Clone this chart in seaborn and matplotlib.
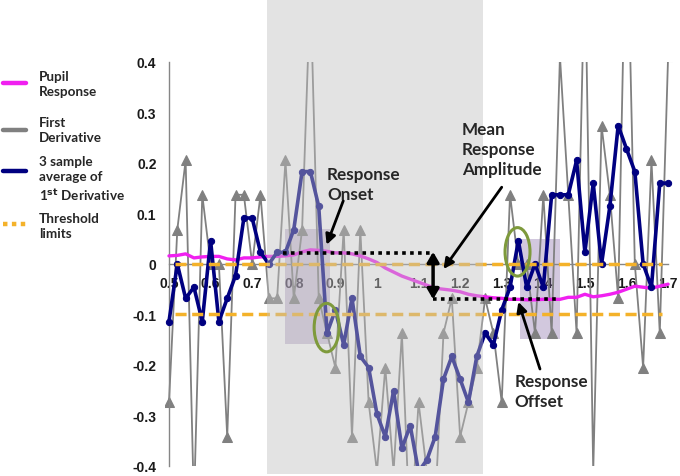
import numpy as np
import pandas as pd
import matplotlib
matplotlib.use("Agg")
import matplotlib.pyplot as plt
import seaborn as sns
from matplotlib.patches import Rectangle, Ellipse
from matplotlib.lines import Line2D

# samples every 0.02 s
sample_time = [0.50, 0.52, 0.54, 0.56, 0.58, 0.60, 0.62, 0.64, 0.66, 0.68,
               0.70, 0.72, 0.74, 0.76, 0.78, 0.80, 0.82, 0.84, 0.86, 0.88,
               0.90, 0.92, 0.94, 0.96, 0.98, 1.00, 1.02, 1.04, 1.06, 1.08,
               1.10, 1.12, 1.14, 1.16, 1.18, 1.20, 1.22, 1.24, 1.26, 1.28,
               1.30, 1.32, 1.34, 1.36, 1.38, 1.40, 1.42, 1.44, 1.46, 1.48,
               1.50, 1.52, 1.54, 1.56, 1.58, 1.60, 1.62, 1.64, 1.66, 1.68,
               1.70]

pupil_response = [0.016, 0.017, 0.020, 0.012, 0.014, 0.015, 0.015, 0.010, 0.008, 0.012,
                  0.012, 0.014, 0.015, 0.015, 0.016, 0.018, 0.024, 0.028, 0.027, 0.025,
                  0.022, 0.022, 0.020, 0.016, 0.010, 0.003, -0.008, -0.016, -0.024, -0.030,
                  -0.036, -0.042, -0.048, -0.050, -0.052, -0.055, -0.060, -0.063, -0.065, -0.067,
                  -0.068, -0.070, -0.070, -0.071, -0.071, -0.070, -0.070, -0.070, -0.066, -0.066,
                  -0.060, -0.065, -0.063, -0.060, -0.056, -0.050, -0.044, -0.046, -0.048, -0.044,
                  -0.040]

first_derivative = [-0.274, 0.068, 0.205, -0.479, 0.137, 0.0, 0.0, -0.342, 0.137, 0.137,
                    0.0, 0.137, -0.068, -0.068, 0.205, -0.068, 0.068, 0.548, -0.068, -0.137,
                    -0.205, 0.068, -0.342, 0.068, -0.274, -0.411, -0.205, -0.411, -0.137, -0.548,
                    -0.274, -0.411, -0.479, -0.137, -0.068, -0.342, -0.274, -0.205, -0.068, -0.137,
                    -0.274, 0.137, 0.0, 0.0, -0.137, 0.137, -0.137, 0.411, 0.137, -0.137,
                    0.616, -0.411, 0.274, 0.137, -0.068, 0.753, 0.0, -0.205, 0.205, -0.137,
                    0.411]

avg_derivative = [-0.114, 0.0, -0.068, -0.046, -0.114, 0.046, -0.114, -0.068, -0.023, 0.091,
                  0.091, 0.023, 0.0, 0.023, 0.023, 0.068, 0.183, 0.183, 0.114, -0.137,
                  -0.091, -0.160, -0.068, -0.183, -0.205, -0.297, -0.342, -0.251, -0.365, -0.320,
                  -0.411, -0.388, -0.342, -0.228, -0.183, -0.228, -0.274, -0.183, -0.137, -0.160,
                  -0.091, -0.046, 0.046, -0.046, 0.0, -0.046, 0.137, 0.137, 0.137, 0.205,
                  0.023, 0.160, 0.0, 0.114, 0.274, 0.228, 0.183, 0.0, -0.046, 0.160,
                  0.160]

threshold_limits = [0.0, -0.1]
x_ticks = [0.5, 0.6, 0.7, 0.8, 0.9, 1.0, 1.1, 1.2, 1.3, 1.4, 1.5, 1.6, 1.7]
x_tick_labels = ["0.5", "0.6", "0.7", "0.8", "0.9", "1", "1.1", "1.2", "1.3", "1.4", "1.5", "1.6", "1.7"]
y_ticks = [-0.4, -0.3, -0.2, -0.1, 0.0, 0.1, 0.2, 0.3, 0.4]
y_tick_labels = ["-0.4", "-0.3", "-0.2", "-0.1", "0", "0.1", "0.2", "0.3", "0.4"]

response_window = (0.736, 1.255)
onset_box = (0.779, 0.887, -0.158, 0.069)
offset_box = (1.344, 1.44, -0.148, 0.05)
mean_levels = [(0.775, 1.135, 0.022), (1.135, 1.44, -0.07)]

legend_labels = ["Pupil\nResponse", "First\nDerivative",
                 "3 sample\naverage of\n1$^{\\mathbf{st}}$ Derivative", "Threshold\nlimits"]

df = pd.DataFrame({"time": sample_time, "pupil": pupil_response,
                   "deriv": first_derivative, "avg": avg_derivative})

sns.set_style("white")
plt.rcParams["font.family"] = ["Liberation Sans", "DejaVu Sans"]

PINK = "#F020F0"
GREY = "#808080"
NAVY = "#000080"
ORANGE = "#F4B22A"
GREEN = "#7E9A3C"
LABEL_FONT = ["Lato", "DejaVu Sans"]

fig = plt.figure(figsize=(6.8, 4.77), dpi=100)
ax = fig.add_axes([0.2424, 0.021, 0.7462, 0.847])

# purple highlight boxes (onset / offset)
for x0, x1, y0, y1 in [onset_box, offset_box]:
    ax.add_patch(Rectangle((x0, y0), x1 - x0, y1 - y0, facecolor="#8064A2",
                           alpha=0.35, edgecolor="none", zorder=0.6))

sns.lineplot(data=df, x="time", y="deriv", ax=ax, color=GREY, lw=1.3,
             marker="^", markersize=7, markeredgecolor=GREY, zorder=2)
sns.lineplot(data=df, x="time", y="pupil", ax=ax, color=PINK, lw=2.4, zorder=3)
sns.lineplot(data=df, x="time", y="avg", ax=ax, color=NAVY, lw=2.6,
             marker="o", markersize=4.5, markeredgecolor=NAVY, zorder=4)

for lvl in threshold_limits:
    ax.axhline(lvl, xmin=0.0197, xmax=0.9803, color=ORANGE, lw=2.5,
               dashes=(3.2, 1.6), zorder=5)

# shaded response window drawn on top, spilling above the axes
ax.axvspan(*response_window, ymin=-0.02, ymax=1.16, facecolor="#C0C0C0",
           alpha=0.44, edgecolor="none", zorder=6, clip_on=False)

for x0, x1, lvl in mean_levels:
    ax.plot([x0, x1], [lvl, lvl], color="black", lw=2.6, ls=(0, (1, 1.2)), zorder=8)

ax.annotate("", xy=(1.135, -0.07), xytext=(1.135, 0.024),
            arrowprops=dict(arrowstyle="<|-|>,head_width=0.35,head_length=0.6",
                            color="black", lw=2.5, shrinkA=0, shrinkB=0), zorder=9)

for cx, cy in [(0.879, -0.126), (1.338, 0.024)]:
    ax.add_patch(Ellipse((cx, cy), 0.06, 0.096, fill=False, edgecolor=GREEN,
                         lw=2.2, zorder=9))

arrow_kw = dict(arrowstyle="-|>,head_width=0.3,head_length=0.6", color="black",
                lw=2, shrinkA=0, shrinkB=0)
ax.annotate("", xy=(0.879, 0.038), xytext=(0.919, 0.125), arrowprops=arrow_kw, zorder=9)
ax.annotate("", xy=(1.16, -0.01), xytext=(1.30, 0.152), arrowprops=arrow_kw, zorder=9)
ax.annotate("", xy=(1.34, -0.075), xytext=(1.392, -0.208), arrowprops=arrow_kw, zorder=9)

text_kw = dict(fontsize=12.3, fontweight="bold", family=LABEL_FONT, ha="left",
               va="center", linespacing=1.3, zorder=10)
ax.text(0.880, 0.158, "Response\nOnset", **text_kw)
ax.text(1.204, 0.228, "Mean\nResponse\nAmplitude", **text_kw)
ax.text(1.330, -0.252, "Response\nOffset", **text_kw)

# axes styling
ax.set_xlim(0.49, 1.71)
ax.set_ylim(-0.4, 0.4)
ax.spines["left"].set_position(("data", 0.5))
ax.spines["bottom"].set_position(("data", 0))
ax.spines["bottom"].set_bounds(0.5, 1.7)
for side in ["top", "right"]:
    ax.spines[side].set_visible(False)
for side in ["left", "bottom"]:
    ax.spines[side].set_color("#868686")
    ax.spines[side].set_linewidth(1.0)
ax.set_xticks(x_ticks)
ax.set_xticklabels(x_tick_labels)
ax.set_yticks(y_ticks)
ax.set_yticklabels(y_tick_labels)
ax.tick_params(axis="both", direction="out", length=5, width=1, color="#868686",
               labelsize=10, labelcolor="#1a1a1a", pad=4)
for lab in ax.get_xticklabels() + ax.get_yticklabels():
    lab.set_fontweight("bold")
ax.set_xlabel("")
ax.set_ylabel("")
ax.patch.set_alpha(0)

# legend on the left, laid out by hand in figure pixels
H = 477.0
legend_handles = [dict(color=PINK), dict(color=GREY), dict(color=NAVY),
                  dict(color=ORANGE, ls=(0, (1, 1)))]
handle_y = [84, 131, 172, 225]
text_y = [84.5, 130.5, 179.5, 226.5]
for style, hy, ty, lab in zip(legend_handles, handle_y, text_y, legend_labels):
    fig.add_artist(Line2D([3 / 680, 26 / 680], [1 - hy / H, 1 - hy / H], lw=3.2, **style))
    fig.text(39 / 680, 1 - ty / H, lab, ha="left", va="center", fontsize=9.7,
             fontweight="bold", family=LABEL_FONT, linespacing=1.35)

fig.savefig("out.png", dpi=100)
